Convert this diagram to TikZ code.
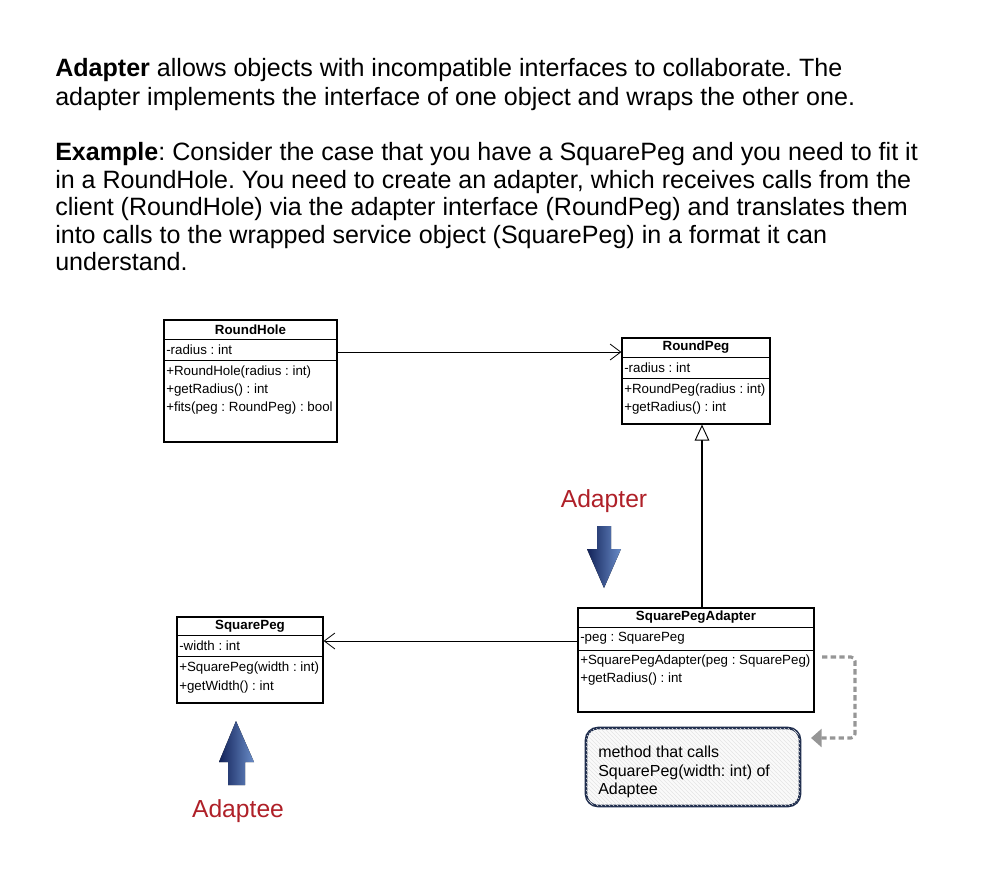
\documentclass[tikz,border=0pt]{standalone}
\usepackage{fontspec}
\setmainfont{Liberation Sans}
\usetikzlibrary{arrows.meta,patterns}
\definecolor{lblred}{RGB}{175,32,40}
\definecolor{navy}{RGB}{18,34,88}
\definecolor{lightblue}{RGB}{105,140,200}
\definecolor{noteborder}{RGB}{32,46,78}
\definecolor{dashgray}{RGB}{150,150,150}
\frenchspacing
\begin{document}
\begin{tikzpicture}[x=0.75pt,y=-0.75pt,
  toptext/.style={anchor=base west,inner sep=0pt,font=\fontsize{18.8}{22}\selectfont},
  umlbox/.style={draw=black,line width=0.9pt,fill=white,inner sep=0pt},
  umltitle/.style={inner sep=0pt,font=\fontsize{10}{12}\selectfont\bfseries},
  umltext/.style={anchor=west,inner sep=0pt,font=\fontsize{10}{12}\selectfont},
  sep/.style={line width=0.6pt},
  assoc/.style={line width=0.6pt,-{Straight Barb[length=8pt,width=12pt,line width=0.6pt]}},
  gen/.style={line width=1.1pt,-{Triangle[open,length=12pt,width=11pt,line width=0.7pt,fill=white]}},
  dashconn/.style={dashgray,line width=2.3pt,dash pattern=on 4pt off 2.5pt,rounded corners=3pt,-{Triangle[length=8pt,width=13.5pt]}},
  notebox/.style={draw=noteborder,line width=2pt,rounded corners=9pt,fill=gray!4,
     postaction={pattern=north west lines,pattern color=gray!20},
     minimum width=160.5pt,minimum height=58.5pt,inner sep=0pt},
  notetext/.style={anchor=base west,inner sep=0pt,font=\fontsize{12}{14}\selectfont},
  redlabel/.style={text=lblred,inner sep=0pt,font=\fontsize{18.5}{22}\selectfont},
  bluearrow/.style={left color=navy,right color=lightblue,draw=none}
]
\useasboundingbox (0,0) rectangle (992,868);

% top paragraph
\node[toptext] (t1) at (55,76) {\textbf{Adapter} allows objects with incompatible interfaces to collaborate. The};
\node[toptext] (t2) at (55,105) {adapter implements the interface of one object and wraps the other one.};
\node[toptext] (t3) at (55,160) {\textbf{Example}: Consider the case that you have a SquarePeg and you need to fit it};
\node[toptext] (t4) at (55,188) {in a RoundHole. You need to create an adapter, which receives calls from the};
\node[toptext] (t5) at (55,215) {client (RoundHole) via the adapter interface (RoundPeg) and translates them};
\node[toptext] (t6) at (55,243) {into calls to the wrapped service object (SquarePeg) in a format it can};
\node[toptext] (t7) at (55,270) {understand.};

% RoundHole
\node[umlbox,minimum width=129.75pt,minimum height=91.5pt] (rh) at (250.5,381) {};
\draw[sep] (164,339) -- (337,339);
\draw[sep] (164,360) -- (337,360);
\node[umltitle] (rht) at (250.5,329.5) {RoundHole};
\node[umltext] (rha) at (166,349.5) {-radius : int};
\node[umltext] (rhm1) at (166,372) {+RoundHole(radius : int)};
\node[umltext] (rhm2) at (166,390) {+getRadius() : int};
\node[umltext] (rhm3) at (166,408) {+fits(peg : RoundPeg) : bool};

% RoundPeg
\node[umlbox,minimum width=111pt,minimum height=64.5pt] (rp) at (696,381) {};
\draw[sep] (622,357) -- (770,357);
\draw[sep] (622,378) -- (770,378);
\node[umltitle] (rpt) at (696,347.5) {RoundPeg};
\node[umltext] (rpa) at (624,367.5) {-radius : int};
\node[umltext] (rpm1) at (624,390) {+RoundPeg(radius : int)};
\node[umltext] (rpm2) at (624,408) {+getRadius() : int};

% SquarePeg
\node[umlbox,minimum width=109.5pt,minimum height=64.5pt] (sp) at (250,660) {};
\draw[sep] (177,635) -- (323,635);
\draw[sep] (177,656) -- (323,656);
\node[umltitle] (spt) at (250,626) {SquarePeg};
\node[umltext] (spa1) at (179,645.5) {-width : int};
\node[umltext] (spm1) at (179,668) {+SquarePeg(width : int)};
\node[umltext] (spm2) at (179,687) {+getWidth() : int};

% SquarePegAdapter
\node[umlbox,minimum width=177pt,minimum height=78pt] (spa) at (696,660) {};
\draw[sep] (578,627) -- (814,627);
\draw[sep] (578,650) -- (814,650);
\node[umltitle] (spat) at (696,617.5) {SquarePegAdapter};
\node[umltext] (spaa) at (580,638.5) {-peg : SquarePeg};
\node[umltext] (spam1) at (580,661) {+SquarePegAdapter(peg : SquarePeg)};
\node[umltext] (spam2) at (580,679) {+getRadius() : int};

% connectors
\coordinate (ay1) at (0,352);
\coordinate (ay2) at (0,641);
\coordinate (gx) at (702,0);
\draw[assoc] (rh.east |- ay1) -- (rp.west |- ay1);
\draw[assoc] (spa.west |- ay2) -- (sp.east |- ay2);
\draw[gen] (spa.north -| gx) -- (rp.south -| gx);

% note
\node[notebox] (note) at (693,767) {};
\node[notetext] (n1) at (598,757) {method that calls};
\node[notetext] (n2) at (598,776) {SquarePeg(width: int) of};
\node[notetext] (n3) at (598,794) {Adaptee};
\coordinate (d0) at (822,657);
\coordinate (dc) at (855,657);
\coordinate (d1) at (811,738);
\draw[dashconn] (d0) -- (dc) |- (d1);

% labels and arrows
\node[redlabel] (lad) at (604,501) {Adapter};
\node[redlabel] (ladt) at (238,811) {Adaptee};
\fill[bluearrow] (597,526) -- (611,526) -- (611,549) -- (621,549) -- (604,588) -- (587,549) -- (597,549) -- cycle;
\fill[bluearrow] (228,785) -- (245,785) -- (245,762) -- (254,762) -- (236,721) -- (219,762) -- (228,762) -- cycle;
\end{tikzpicture}
\end{document}
